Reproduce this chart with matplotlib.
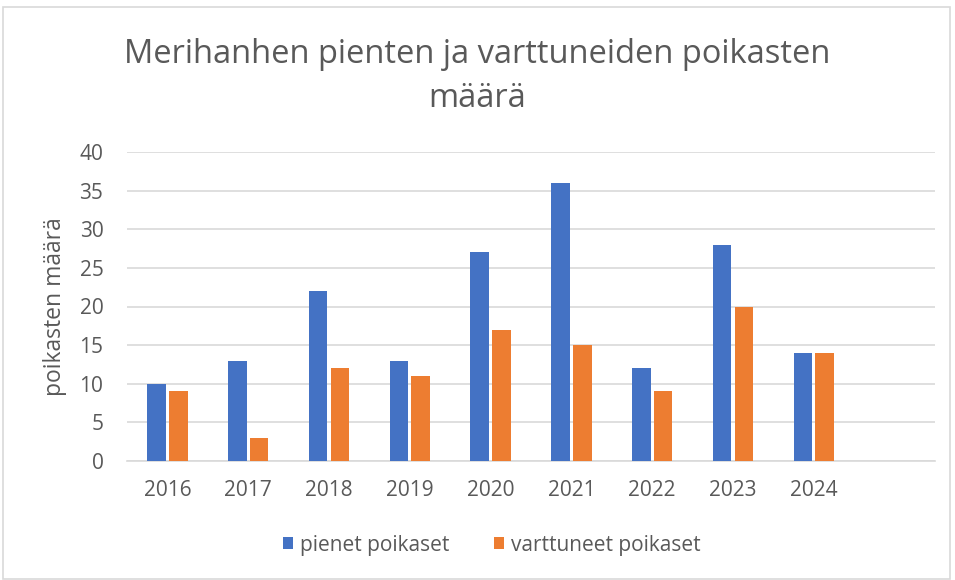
import matplotlib.pyplot as plt
import numpy as np
from matplotlib.patches import Rectangle

years = ["2016", "2017", "2018", "2019", "2020", "2021", "2022", "2023", "2024"]
pienet = [10, 13, 22, 13, 27, 36, 12, 28, 14]
varttuneet = [9, 3, 12, 11, 17, 15, 9, 20, 14]
series_labels = ["pienet poikaset", "varttuneet poikaset"]
y_ticks = [0, 5, 10, 15, 20, 25, 30, 35, 40]

BLUE = "#4472C4"
ORANGE = "#ED7D31"
TEXT = "#595959"
GRID = "#D9D9D9"

plt.rcParams["font.family"] = ["Open Sans", "DejaVu Sans"]

fig = plt.figure(figsize=(9.55, 5.8), dpi=100)
fig.patches.append(Rectangle((3 / 955, 0.002), 947 / 955, 1 - 7 / 580 - 0.002,
                             transform=fig.transFigure, fill=False,
                             edgecolor="#D9D9D9", linewidth=1.2))

ax = fig.add_axes([127 / 955, 119 / 580, 808 / 955, 309 / 580])

x = np.arange(len(years))
width = 0.23
ax.bar(x - 0.135, pienet, width, color=BLUE, label=series_labels[0], zorder=3)
ax.bar(x + 0.135, varttuneet, width, color=ORANGE, label=series_labels[1], zorder=3)

# one empty category slot after 2024, like in the original sheet
ax.set_xlim(-0.5, len(years) + 0.5)
ax.set_ylim(0, 40)
ax.set_yticks(y_ticks)
ax.set_xticks(x, years)
ax.yaxis.grid(True, color=GRID, linewidth=1.2, zorder=0)
ax.set_axisbelow(True)
for side in ("top", "right", "left"):
    ax.spines[side].set_visible(False)
ax.spines["bottom"].set_color(GRID)
ax.spines["bottom"].set_linewidth(1.2)
ax.tick_params(axis="both", length=0, colors=TEXT, labelsize=15)
ax.tick_params(axis="y", pad=17)
ax.tick_params(axis="x", pad=14)

ax.set_ylabel("poikasten määrä", fontsize=16.5, color=TEXT, labelpad=9)

fig.text(0.5, 0.868, "Merihanhen pienten ja varttuneiden poikasten\nmäärä",
         ha="center", va="center", fontsize=23.5, color=TEXT, linespacing=1.47)

fig.legend(loc="center", bbox_to_anchor=(0.515, 0.06), ncol=2, frameon=False,
           fontsize=15, labelcolor=TEXT, handlelength=0.5, handleheight=0.5,
           handletextpad=0.35, columnspacing=2.1)

fig.savefig("out.png", dpi=100)
